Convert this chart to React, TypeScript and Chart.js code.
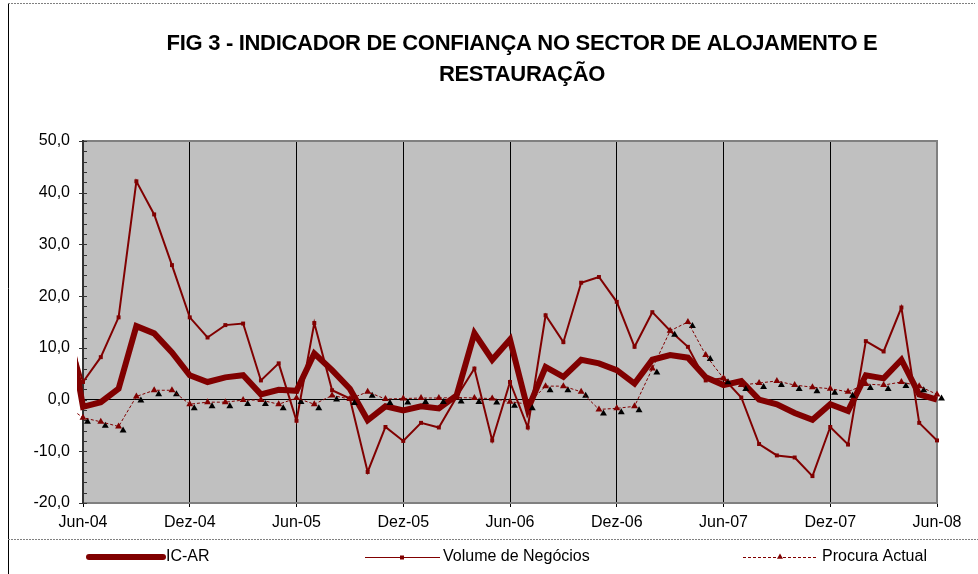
import React, { useEffect, useRef } from 'react';
import { Chart, registerables } from 'chart.js';

Chart.register(...registerables);

// First entry (Mai-04) lies just left of the visible axis; only its clipped stub shows.
const months = [
  'Mai-04', 'Jun-04', 'Jul-04', 'Ago-04', 'Set-04', 'Out-04', 'Nov-04', 'Dez-04',
  'Jan-05', 'Fev-05', 'Mar-05', 'Abr-05', 'Mai-05', 'Jun-05', 'Jul-05', 'Ago-05', 'Set-05', 'Out-05', 'Nov-05', 'Dez-05',
  'Jan-06', 'Fev-06', 'Mar-06', 'Abr-06', 'Mai-06', 'Jun-06', 'Jul-06', 'Ago-06', 'Set-06', 'Out-06', 'Nov-06', 'Dez-06',
  'Jan-07', 'Fev-07', 'Mar-07', 'Abr-07', 'Mai-07', 'Jun-07', 'Jul-07', 'Ago-07', 'Set-07', 'Out-07', 'Nov-07', 'Dez-07',
  'Jan-08', 'Fev-08', 'Mar-08', 'Abr-08', 'Mai-08', 'Jun-08',
];

const icAr = [
  18.0,
  -1.4, -0.5, 2.1, 14.2, 12.8, 9.1, 4.7,
  3.4, 4.3, 4.7, 1.0, 1.9, 1.7, 8.9, 5.7, 2.1, -4.0, -1.3, -2.1,
  -1.3, -1.7, 0.8, 12.8, 7.7, 11.6, -1.9, 6.3, 4.4, 7.7, 7.0, 5.7,
  3.1, 7.7, 8.6, 8.1, 4.3, 2.8, 3.6, 0.0, -0.9, -2.6, -3.9, -0.9,
  -2.2, 4.7, 4.1, 7.7, 1.0, 0.0,
];

const volumeNegocios = [
  15.6,
  3.4, 8.2, 15.9, 42.2, 35.8, 26.0, 15.9,
  12.0, 14.4, 14.7, 3.7, 7.0, -4.1, 14.8, 1.8, 0.2, -14.0, -5.3, -8.0,
  -4.5, -5.4, 0.5, 6.0, -7.9, 3.4, -5.4, 16.3, 11.1, 22.6, 23.7, 18.9,
  10.2, 16.9, 13.3, 10.2, 3.7, 4.1, 0.4, -8.6, -10.8, -11.2, -14.8, -5.3,
  -8.7, 11.3, 9.3, 17.8, -4.5, -7.9,
];

const procuraActual = [
  -1.0,
  -3.5, -4.3, -5.2, 0.6, 1.8, 1.8, -0.9,
  -0.5, -0.5, -0.1, -0.1, -0.9, 0.3, -0.9, 0.8, 0.1, 1.5, 0.1, 0.2,
  0.3, 0.3, 0.4, 0.3, 0.2, -0.4, -0.9, 2.6, 2.6, 1.5, -1.9, -1.7,
  -1.3, 6.0, 13.3, 15.0, 8.6, 4.1, 2.8, 3.2, 3.6, 2.8, 2.4, 2.1,
  1.5, 3.0, 2.8, 3.4, 2.6, 1.0,
];

const seriesNames = ['IC-AR', 'Volume de Negócios', 'Procura Actual'];
const titleLines = ['FIG 3 - INDICADOR DE CONFIANÇA NO SECTOR DE ALOJAMENTO E', 'RESTAURAÇÃO'];
const firstVisible = 'Jun-04';
const yMin = -20;
const yMax = 50;

const MAROON = '#800000';
const FONT = '"Liberation Sans", Arial, sans-serif';

function triangle(ctx: CanvasRenderingContext2D, x: number, y: number, r: number) {
  ctx.beginPath();
  for (let k = 0; k < 3; k++) {
    const a = (k * 2 * Math.PI) / 3;
    const px = x + Math.sin(a) * r;
    const py = y - Math.cos(a) * r;
    if (k === 0) ctx.moveTo(px, py);
    else ctx.lineTo(px, py);
  }
  ctx.closePath();
}

const decor = {
  id: 'decor',
  beforeDraw(chart: any) {
    const { ctx, chartArea: a } = chart;
    ctx.save();
    ctx.fillStyle = '#ffffff';
    ctx.fillRect(0, 0, chart.width, chart.height);
    ctx.fillStyle = '#c0c0c0';
    ctx.fillRect(a.left, a.top, a.right - a.left, a.bottom - a.top);
    ctx.restore();
  },
  beforeDatasetsDraw(chart: any) {
    const { ctx, chartArea: a, scales } = chart;
    ctx.save();
    ctx.strokeStyle = '#808080';
    ctx.lineWidth = 2;
    ctx.beginPath();
    ctx.moveTo(a.left, a.top);
    ctx.lineTo(a.right, a.top);
    ctx.lineTo(a.right, a.bottom);
    ctx.lineTo(a.left, a.bottom);
    ctx.stroke();
    ctx.strokeStyle = '#333333';
    ctx.beginPath();
    ctx.moveTo(a.left, a.top - 1);
    ctx.lineTo(a.left, a.bottom + 1);
    ctx.stroke();
    const y = scales.y;
    ctx.lineWidth = 1;
    for (let v = yMin; v <= yMax; v += 2) {
      const py = Math.round(y.getPixelForValue(v)) + 0.5;
      const major = v % 10 === 0;
      ctx.beginPath();
      ctx.moveTo(a.left - (major ? 4 : 0), py);
      ctx.lineTo(a.left + 4, py);
      ctx.stroke();
    }
    ctx.restore();
  },
  beforeDatasetDraw(chart: any, args: any) {
    if (args.index !== 2) return;
    const { ctx } = chart;
    const meta = chart.getDatasetMeta(2);
    ctx.save();
    ctx.fillStyle = '#000000';
    meta.data.forEach((pt: any, i: number) => {
      if (i === 0) return;
      triangle(ctx, pt.x + 4.5, pt.y + 4, 4);
      ctx.fill();
    });
    ctx.restore();
  },
  afterDraw(chart: any) {
    const { ctx } = chart;
    const w = chart.width;
    ctx.save();
    // outer frame
    ctx.strokeStyle = '#000000';
    ctx.lineWidth = 1;
    ctx.beginPath();
    ctx.moveTo(8.5, 3);
    ctx.lineTo(8.5, chart.height);
    ctx.stroke();
    ctx.strokeStyle = '#808080';
    ctx.setLineDash([2, 1]);
    ctx.beginPath();
    ctx.moveTo(8, 3.5);
    ctx.lineTo(w - 3, 3.5);
    ctx.moveTo(8, 539.5);
    ctx.lineTo(w, 539.5);
    ctx.stroke();
    ctx.setLineDash([]);

    // title
    ctx.fillStyle = '#000000';
    ctx.font = 'bold 22px ' + FONT;
    (ctx as any).letterSpacing = '-0.3px';
    ctx.textAlign = 'center';
    ctx.textBaseline = 'middle';
    ctx.fillText(titleLines[0], 522, 44);
    ctx.fillText(titleLines[1], 522, 75);
    (ctx as any).letterSpacing = '0px';

    // legend
    const ly = 557;
    ctx.font = '16px ' + FONT;
    ctx.textAlign = 'left';
    ctx.fillStyle = '#000000';
    // IC-AR
    ctx.strokeStyle = MAROON;
    ctx.lineWidth = 6;
    ctx.lineCap = 'round';
    ctx.beginPath();
    ctx.moveTo(89, ly);
    ctx.lineTo(163, ly);
    ctx.stroke();
    ctx.lineCap = 'butt';
    ctx.fillText(seriesNames[0], 166, ly);
    // Volume
    ctx.lineWidth = 1;
    ctx.beginPath();
    ctx.moveTo(365, ly + 0.5);
    ctx.lineTo(440, ly + 0.5);
    ctx.stroke();
    ctx.fillStyle = MAROON;
    ctx.fillRect(400, ly - 1.5, 4, 4);
    ctx.fillStyle = '#000000';
    ctx.fillText(seriesNames[1], 443, ly);
    // Procura
    ctx.setLineDash([3, 2]);
    ctx.beginPath();
    ctx.moveTo(743, ly + 0.5);
    ctx.lineTo(817, ly + 0.5);
    ctx.stroke();
    ctx.setLineDash([]);
    ctx.fillStyle = MAROON;
    triangle(ctx, 780, ly, 3.5);
    ctx.fill();
    ctx.fillStyle = '#000000';
    ctx.fillText(seriesNames[2], 822, ly);
    ctx.restore();
  },
};

export default function App() {
  const ref = useRef<HTMLCanvasElement | null>(null);

  useEffect(() => {
    if (!ref.current) return;
    const chart = new Chart(ref.current, {
      type: 'line',
      data: {
        labels: months,
        datasets: [
          {
            label: seriesNames[0],
            data: icAr,
            borderColor: MAROON,
            backgroundColor: MAROON,
            borderWidth: 6,
            pointRadius: 0,
            tension: 0,
            order: 3,
            clip: { left: 6, top: 8, right: 4, bottom: 8 },
          },
          {
            label: seriesNames[1],
            data: volumeNegocios,
            borderColor: MAROON,
            backgroundColor: MAROON,
            borderWidth: 2,
            pointStyle: 'rect',
            pointRadius: 2.8,
            pointBorderWidth: 0,
            tension: 0,
            order: 2,
            clip: { left: 6, top: 8, right: 4, bottom: 8 },
          },
          {
            label: seriesNames[2],
            data: procuraActual,
            borderColor: MAROON,
            backgroundColor: MAROON,
            borderWidth: 1,
            borderDash: [3, 2],
            pointStyle: 'triangle',
            pointRadius: 4,
            pointBorderWidth: 0,
            tension: 0,
            order: 1,
            clip: { left: 6, top: 8, right: 6, bottom: 8 },
          },
        ],
      },
      options: {
        responsive: false,
        animation: false,
        devicePixelRatio: 1,
        layout: { padding: { top: 141, right: 41, bottom: 31, left: 0 } },
        plugins: {
          legend: { display: false },
          title: { display: false },
          tooltip: { enabled: false },
        },
        scales: {
          x: {
            type: 'category',
            min: firstVisible,
            border: { display: false },
            grid: {
              drawOnChartArea: true,
              drawTicks: true,
              tickLength: 4,
              lineWidth: 1,
              color: (c: any) => (c.tick && (c.tick.value - 1) % 6 === 0 ? '#000000' : 'rgba(0,0,0,0)'),
            },
            ticks: {
              autoSkip: false,
              maxRotation: 0,
              minRotation: 0,
              padding: 6,
              color: '#000000',
              font: { family: FONT, size: 16 },
              callback: (value: any) => ((Number(value) - 1) % 6 === 0 ? months[Number(value)] : ''),
            },
            afterFit: (s: any) => {
              s.height = 40;
            },
          },
          y: {
            min: yMin,
            max: yMax,
            border: { display: false },
            grid: {
              drawTicks: false,
              lineWidth: 1,
              color: (c: any) => (c.tick && c.tick.value === 0 ? '#000000' : 'rgba(0,0,0,0)'),
            },
            ticks: {
              stepSize: 10,
              padding: 13,
              color: '#000000',
              font: { family: FONT, size: 16 },
              callback: (value: any) => Number(value).toFixed(1).replace('.', ','),
            },
            afterFit: (s: any) => {
              s.width = 83;
            },
          },
        },
      },
      plugins: [decor],
    });
    return () => chart.destroy();
  }, []);

  return (
    <div style={{ position: 'absolute', left: 0, top: 0, width: 978, height: 574 }}>
      <canvas ref={ref} width={978} height={574} style={{ display: 'block' }} />
    </div>
  );
}
